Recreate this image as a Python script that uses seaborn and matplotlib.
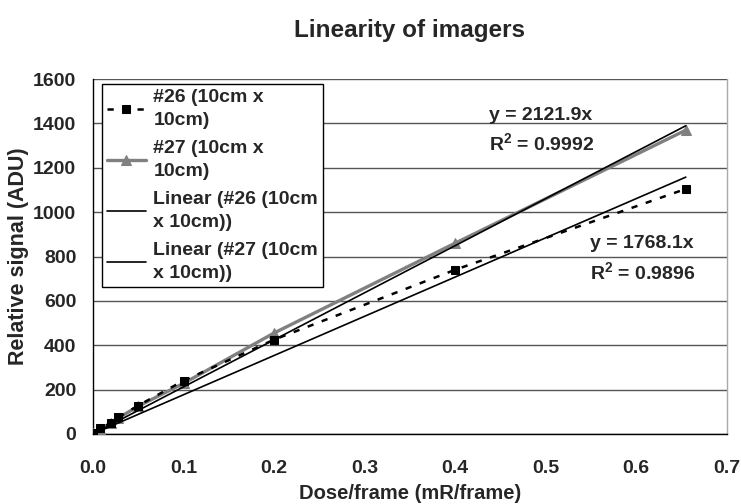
import matplotlib
matplotlib.use("Agg")
import matplotlib.pyplot as plt
import numpy as np
import pandas as pd
import seaborn as sns

# Dose per frame (mR/frame) and measured relative signal for the two imagers
dose = [0.0, 0.008, 0.02, 0.028, 0.05, 0.1, 0.2, 0.4, 0.655]
signal_26 = [5, 25, 50, 75, 128, 240, 425, 740, 1105]
signal_27 = [3, 22, 48, 72, 125, 228, 455, 860, 1370]

# Linear trend fits through the origin
slope_26 = 1768.1
r2_26 = 0.9896
slope_27 = 2121.9
r2_27 = 0.9992

label_26 = "#26 (10cm x\n10cm)"
label_27 = "#27 (10cm x\n10cm)"
label_fit_26 = "Linear (#26 (10cm\nx 10cm))"
label_fit_27 = "Linear (#27 (10cm\nx 10cm))"

sns.set_theme(style="white")
plt.rcParams["font.family"] = ["Liberation Sans", "DejaVu Sans"]
plt.rcParams["font.weight"] = "bold"
plt.rcParams["mathtext.fontset"] = "custom"
plt.rcParams["mathtext.rm"] = "Liberation Sans:bold"
plt.rcParams["mathtext.bf"] = "Liberation Sans:bold"
plt.rcParams["mathtext.default"] = "rm"

FS = 14

fig = plt.figure(figsize=(7.41, 5.04), dpi=100)
ax = fig.add_axes([0.1255, 0.139, 0.855, 0.704])

df26 = pd.DataFrame({"dose": dose, "signal": signal_26})
df27 = pd.DataFrame({"dose": dose, "signal": signal_27})

xfit = np.array([0.0, max(dose)])
fit26 = pd.DataFrame({"dose": xfit, "signal": slope_26 * xfit})
fit27 = pd.DataFrame({"dose": xfit, "signal": slope_27 * xfit})

sns.lineplot(data=df27, x="dose", y="signal", ax=ax, color="#808080",
             linewidth=2.4, marker="^", markersize=7.5, markeredgecolor="#808080",
             label=label_27, zorder=3)
sns.lineplot(data=df26, x="dose", y="signal", ax=ax, color="black",
             linewidth=1.8, marker="s", markersize=6, markeredgecolor="black",
             label=label_26, zorder=4)
ax.lines[-1].set_dashes([2.5, 3.5])
sns.lineplot(data=fit26, x="dose", y="signal", ax=ax, color="black",
             linewidth=1.2, label=label_fit_26, zorder=5)
sns.lineplot(data=fit27, x="dose", y="signal", ax=ax, color="black",
             linewidth=1.2, label=label_fit_27, zorder=5)

ax.set_xlim(0, 0.7)
ax.set_ylim(0, 1600)
xt = np.arange(0, 0.71, 0.1)
ax.set_xticks(xt)
ax.set_xticklabels([f"{v:.1f}" for v in xt])
ax.set_yticks(np.arange(0, 1601, 200))

ax.yaxis.grid(True, color="#555555", linewidth=1.0)
ax.set_axisbelow(True)
for side in ["left", "bottom"]:
    ax.spines[side].set_color("black")
    ax.spines[side].set_linewidth(1.0)
ax.spines["top"].set_visible(False)
ax.spines["right"].set_color("#aaaaaa")
ax.spines["right"].set_linewidth(1.0)

ax.tick_params(axis="both", which="major", labelsize=FS, length=6,
               width=1, color="black", direction="out")
ax.tick_params(axis="x", pad=13)
ax.tick_params(axis="y", pad=6)
for lbl in ax.get_xticklabels() + ax.get_yticklabels():
    lbl.set_fontweight("bold")

ax.set_xlabel("Dose/frame (mR/frame)", fontsize=14.5, fontweight="bold", labelpad=5)
ax.set_ylabel("Relative signal (ADU)", fontsize=15.5, fontweight="bold", labelpad=3)
fig.suptitle("Linearity of imagers", x=0.553, y=0.962, fontsize=17.5, fontweight="bold")

# Trend-line equations
ax.text(0.437, 1437, f"y = {slope_27}x", fontsize=FS, fontweight="bold",
        ha="left", va="center")
ax.text(0.437, 1311, f"R$^{{2}}$ = {r2_27}", fontsize=FS, fontweight="bold",
        ha="left", va="center")
ax.text(0.549, 861, f"y = {slope_26}x", fontsize=FS, fontweight="bold",
        ha="left", va="center")
ax.text(0.549, 730, f"R$^{{2}}$ = {r2_26}", fontsize=FS, fontweight="bold",
        ha="left", va="center")

handles, labels = ax.get_legend_handles_labels()
order = [labels.index(label_26), labels.index(label_27),
         labels.index(label_fit_26), labels.index(label_fit_27)]
leg = ax.legend([handles[i] for i in order], [labels[i] for i in order],
                loc="upper left", bbox_to_anchor=(0.014, 0.986),
                borderaxespad=0.0,
                fontsize=FS, frameon=True, fancybox=False,
                edgecolor="black", framealpha=1, borderpad=0.25,
                labelspacing=0.58, handlelength=2.0, handletextpad=0.4)
leg.get_frame().set_linewidth(1.0)
for t in leg.get_texts():
    t.set_fontweight("bold")
    t.set_linespacing(1.45)

fig.savefig("out.png", dpi=100)
